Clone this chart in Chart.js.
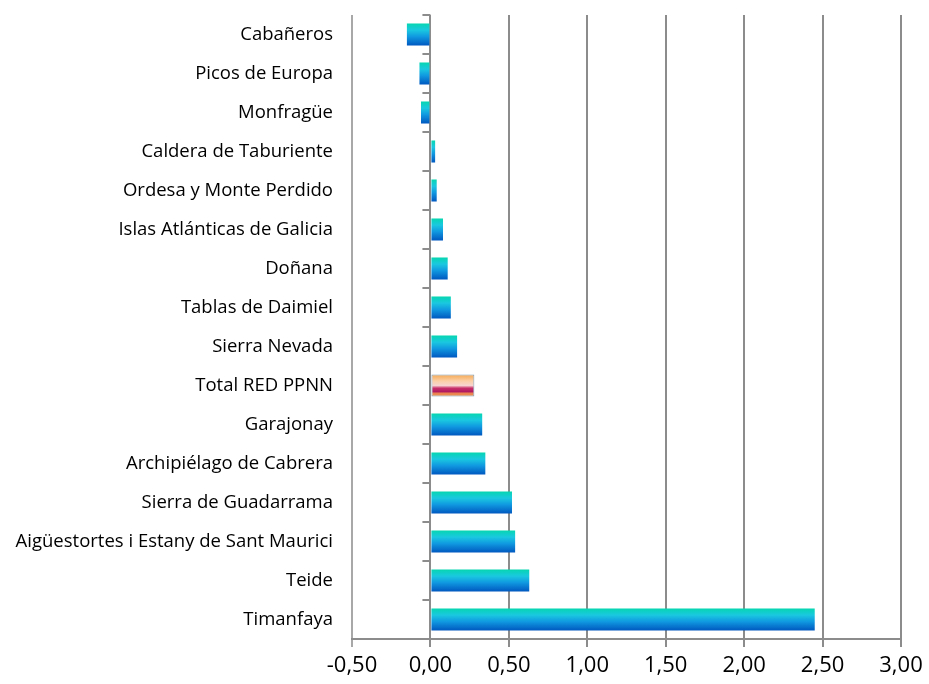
<!DOCTYPE html>
<html>
<head>
<meta charset="utf-8">
<script src="https://cdn.jsdelivr.net/npm/chart.js@4.4.1/dist/chart.umd.min.js"></script>
<style>
  html, body { margin: 0; padding: 0; background: #fff; }
  #wrap { width: 929px; height: 684px; position: relative; }
</style>
</head>
<body>
<div id="wrap"><canvas id="c"></canvas></div>
<script>
const parks = [
  'Cabañeros', 'Picos de Europa', 'Monfragüe', 'Caldera de Taburiente',
  'Ordesa y Monte Perdido', 'Islas Atlánticas de Galicia', 'Doñana',
  'Tablas de Daimiel', 'Sierra Nevada', 'Total RED PPNN', 'Garajonay',
  'Archipiélago de Cabrera', 'Sierra de Guadarrama',
  'Aigüestortes i Estany de Sant Maurici', 'Teide', 'Timanfaya'
];
const values = [-0.15, -0.07, -0.06, 0.03, 0.04, 0.08, 0.11, 0.13, 0.17, 0.28, 0.33, 0.35, 0.52, 0.54, 0.63, 2.45];
const xTicks = [-0.5, 0, 0.5, 1, 1.5, 2, 2.5, 3];
const totalLabel = 'Total RED PPNN';

const BAR_PCT = 0.565;

function barFill(ctx) {
  const chart = ctx.chart;
  const y = chart.scales.y;
  if (!y || !chart.chartArea) return '#1890d8';
  const band = y.height / parks.length;
  const half = band * BAR_PCT / 2;
  const c = y.getPixelForValue(ctx.dataIndex);
  const g = chart.ctx.createLinearGradient(0, c - half, 0, c + half);
  if (parks[ctx.dataIndex] === totalLabel) {
    g.addColorStop(0, '#f6a850');
    g.addColorStop(0.3, '#fbd0a8');
    g.addColorStop(0.5, '#f8d4d0');
    g.addColorStop(0.62, '#c8306a');
    g.addColorStop(0.78, '#b01860');
    g.addColorStop(0.85, '#e88050');
    g.addColorStop(1, '#f09850');
  } else {
    g.addColorStop(0, '#06d6b0');
    g.addColorStop(0.3, '#1ac8e0');
    g.addColorStop(0.6, '#1098e0');
    g.addColorStop(1, '#0058c0');
  }
  return g;
}

// short marks on the zero line between categories (Excel style)
const zeroTicks = {
  id: 'zeroTicks',
  afterDraw(chart) {
    const x = chart.scales.x, y = chart.scales.y;
    const x0 = x.getPixelForValue(0);
    const band = y.height / parks.length;
    const g = chart.ctx;
    g.save();
    g.strokeStyle = '#8c8c8c';
    g.lineWidth = 2;
    for (let i = 0; i <= parks.length; i++) {
      const yy = Math.round(y.top + i * band);
      g.beginPath();
      g.moveTo(x0 - 8, yy);
      g.lineTo(x0, yy);
      g.stroke();
    }
    g.restore();
  }
};

new Chart(document.getElementById('c'), {
  type: 'bar',
  data: {
    labels: parks,
    datasets: [{
      data: values,
      backgroundColor: barFill,
      borderColor: ctx => parks[ctx.dataIndex] === totalLabel ? '#7f9cb4' : 'rgba(0,0,0,0)',
      borderWidth: ctx => parks[ctx.dataIndex] === totalLabel ? 1 : 0,
      borderSkipped: false,
      barPercentage: BAR_PCT,
      categoryPercentage: 1
    }]
  },
  options: {
    indexAxis: 'y',
    responsive: true,
    maintainAspectRatio: false,
    animation: false,
    layout: { padding: { top: 15, right: 28, left: 0, bottom: 0 } },
    plugins: { legend: { display: false }, tooltip: { enabled: false } },
    scales: {
      x: {
        min: -0.5,
        max: 3,
        afterBuildTicks: axis => { axis.ticks = xTicks.map(v => ({ value: v })); },
        afterFit: axis => { axis.height = 45; },
        grid: {
          color: ctx => ctx.index === 0 ? '#a8a8a8' : '#8c8c8c',
          lineWidth: 2,
          tickLength: 8
        },
        border: { color: '#8c8c8c', width: 2 },
        ticks: {
          color: '#000',
          padding: 6,
          font: { family: 'Open Sans', size: 22 },
          maxRotation: 0,
          callback: v => v.toFixed(2).replace('.', ',')
        }
      },
      y: {
        grid: { display: false },
        border: { display: false },
        afterFit: axis => {
          axis.width = 352;
          axis.paddingTop = 0;
          axis.paddingBottom = 0;
        },
        ticks: {
          color: '#000',
          padding: 11,
          font: { family: 'Open Sans', size: 18.5 },
          autoSkip: false
        }
      }
    }
  },
  plugins: [zeroTicks]
});
</script>
</body>
</html>
